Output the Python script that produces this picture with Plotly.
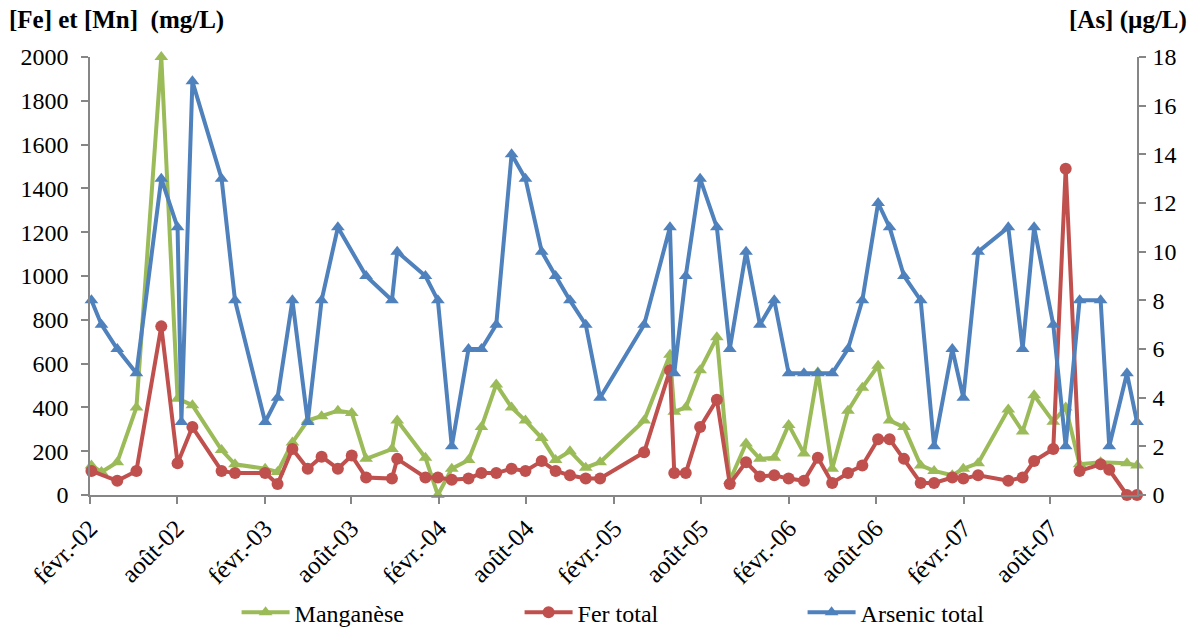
import plotly.graph_objects as go

# Sampling dates
dates = [
    "2002-02-04", "2002-02-25", "2002-03-30", "2002-05-09", "2002-06-30",
    "2002-08-03", "2002-08-11", "2002-09-03", "2002-11-03", "2002-12-01",
    "2003-02-02", "2003-02-28", "2003-03-31", "2003-05-02", "2003-05-31",
    "2003-07-04", "2003-08-02", "2003-09-01", "2003-10-25", "2003-11-05",
    "2004-01-03", "2004-01-29", "2004-02-27", "2004-04-02", "2004-04-29",
    "2004-05-30", "2004-07-01", "2004-07-30", "2004-09-02", "2004-10-01",
    "2004-10-31", "2004-12-03", "2005-01-02", "2005-04-04", "2005-05-28",
    "2005-06-06", "2005-06-30", "2005-07-30", "2005-09-03", "2005-09-30",
    "2005-11-03", "2005-12-02", "2006-01-01", "2006-01-31", "2006-03-04",
    "2006-04-02", "2006-05-02", "2006-06-04", "2006-07-04", "2006-08-06",
    "2006-08-30", "2006-09-29", "2006-11-03", "2006-12-01", "2007-01-08",
    "2007-01-31", "2007-03-03", "2007-05-05", "2007-06-04", "2007-06-28",
    "2007-08-07", "2007-09-02", "2007-10-01", "2007-11-14", "2007-12-02",
    "2008-01-08", "2008-01-29",
]

# Arsenic total (µg/L)
arsenic = [
    8, 7, 6, 5, 13, 11, 3, 17, 13, 8,
    3, 4, 8, 3, 8, 11, None, 9, 8, 10,
    9, 8, 2, 6, 6, 7, 14, 13, 10, 9,
    8, 7, 4, 7, 11, 5, 9, 13, 11, 6,
    10, 7, 8, 5, 5, 5, 5, 6, 8, 12,
    11, 9, 8, 2, 6, 4, 10, 11, 6, 11,
    7, 2, 8, 8, 2, 5, 3,
]

# Manganèse (mg/L)
manganese = [
    135, 105, 150, 400, 2000, 440, None, 410, 205, 140,
    120, 105, 240, 340, 360, 385, 375, 165, 210, 340,
    170, 0, 120, 160, 310, 505, 400, 340, 260, 160,
    200, 125, 150, 340, 640, 380, 400, 570, 720, 65,
    235, 165, 170, 320, 190, 560, 120, 385, 490, 590,
    340, 310, 135, 110, 90, 120, 145, 390, 290, 455,
    335, 400, 140, 150, None, 145, 135,
]

# Fer total (mg/L)
fer = [
    110, None, 65, 110, 770, 145, None, 310, 110, 100,
    100, 50, 210, 120, 175, 120, 180, 80, 75, 165,
    80, 80, 70, 75, 100, 100, 120, 110, 155, 110,
    90, 75, 75, 195, 570, 100, 100, 310, 435, 50,
    150, 85, 90, 75, 65, 170, 55, 100, 135, 255,
    255, 165, 55, 55, 80, 75, 90, 65, 80, 155,
    210, 1490, 110, 140, 115, 0, 0,
]

tick_dates = [
    "2002-02-01", "2002-08-01", "2003-02-01", "2003-08-01",
    "2004-02-01", "2004-08-01", "2005-02-01", "2005-08-01",
    "2006-02-01", "2006-08-01", "2007-02-01", "2007-08-01",
]
tick_labels = [
    "févr.-02", "août-02", "févr.-03", "août-03",
    "févr.-04", "août-04", "févr.-05", "août-05",
    "févr.-06", "août-06", "févr.-07", "août-07",
]

GREEN = "#9BBB59"
RED = "#C0504D"
BLUE = "#4F81BD"
AXIS = "#868686"
FONT = "Liberation Serif, Times New Roman, serif"
FS = 24

fig = go.Figure()

fig.add_trace(go.Scatter(
    x=dates, y=manganese, name="Manganèse", mode="lines+markers",
    connectgaps=True, cliponaxis=False,
    line=dict(color=GREEN, width=4),
    marker=dict(symbol="triangle-up", size=12, color=GREEN),
))
fig.add_trace(go.Scatter(
    x=dates, y=fer, name="Fer total", mode="lines+markers",
    connectgaps=True, cliponaxis=False,
    line=dict(color=RED, width=4),
    marker=dict(symbol="circle", size=12, color=RED),
))
fig.add_trace(go.Scatter(
    x=dates, y=arsenic, name="Arsenic total", mode="lines+markers",
    connectgaps=True, cliponaxis=False, yaxis="y2",
    line=dict(color=BLUE, width=4),
    marker=dict(symbol="triangle-up", size=12, color=BLUE),
))

axis_common = dict(
    showline=True, linecolor=AXIS, linewidth=1.5,
    ticks="outside", tickcolor=AXIS, ticklen=7, tickwidth=1.5,
    showgrid=False, zeroline=False, automargin=False,
)

fig.update_layout(
    width=1196, height=633,
    margin=dict(l=90, r=59, t=57, b=138, autoexpand=False),
    paper_bgcolor="white", plot_bgcolor="white",
    font=dict(family=FONT, size=FS, color="#000000"),
    xaxis=dict(
        type="date",
        range=["2002-02-01", "2008-01-29"],
        tickvals=tick_dates, ticktext=tick_labels,
        tickangle=-45,
        tickfont=dict(family=FONT, size=25, color="#000000"),
        **axis_common,
    ),
    yaxis=dict(
        range=[0, 2000], dtick=200, tick0=0,
        ticklabelstandoff=8,
        tickfont=dict(family=FONT, size=FS, color="#000000"),
        **axis_common,
    ),
    yaxis2=dict(
        range=[0, 18], dtick=2, tick0=0,
        overlaying="y", side="right",
        ticklabelstandoff=2,
        tickfont=dict(family=FONT, size=FS, color="#000000"),
        **axis_common,
    ),
    legend=dict(
        orientation="h", x=0.14, xanchor="left",
        yref="container", y=0.032, yanchor="middle",
        entrywidth=220,
        font=dict(family=FONT, size=FS, color="#000000"),
        itemwidth=48,
    ),
    showlegend=True,
    annotations=[
        dict(text="<b>[Fe] et [Mn]  (mg/L)</b>", xref="paper", yref="paper",
             x=-0.079, y=1.085, xanchor="left", yanchor="middle",
             showarrow=False, font=dict(family=FONT, size=25)),
        dict(text="<b>[As] (µg/L)</b>", xref="paper", yref="paper",
             x=1.05, y=1.085, xanchor="right", yanchor="middle",
             showarrow=False, font=dict(family=FONT, size=25)),
    ],
)

fig.write_html("out.html")
